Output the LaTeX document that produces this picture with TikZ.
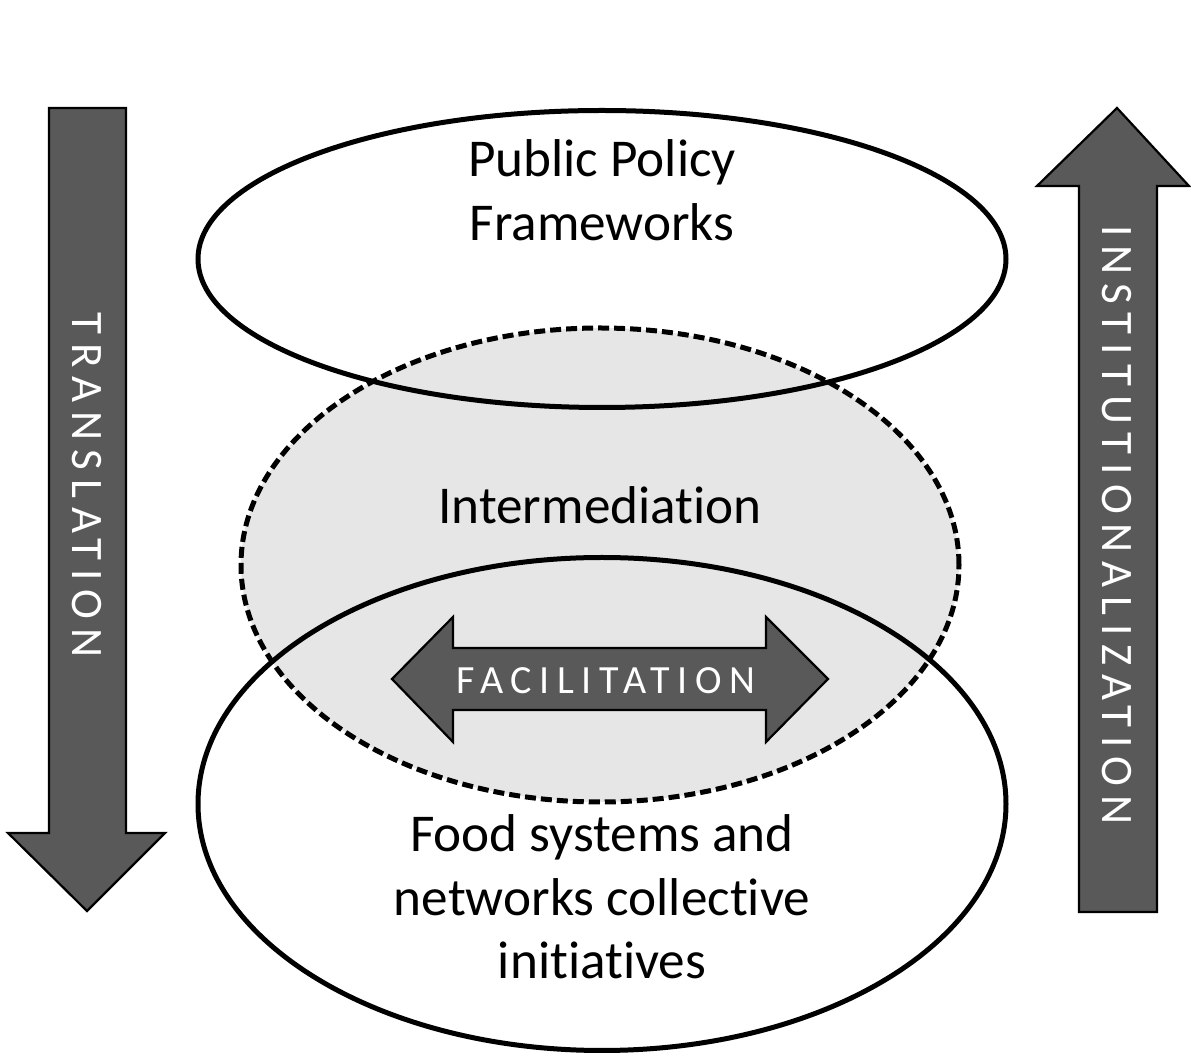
\documentclass[tikz,border=0pt]{standalone}
\usepackage{fontspec}
\setmainfont{Carlito}[Ligatures=NoCommon]
\usetikzlibrary{shapes.geometric}
\definecolor{arrowgray}{HTML}{595959}
\definecolor{midgray}{HTML}{E6E6E6}
\begin{document}
\begin{tikzpicture}[x=0.5pt,y=-0.5pt,
  oval/.style={ellipse, draw=black, line width=2.5pt, inner sep=0pt},
  blockarrow/.style={fill=arrowgray, draw=black, line width=1.1pt, line join=miter},
  spaced/.style={text=white, inner sep=0pt, anchor=center, font=\fontsize{22.5}{27}\selectfont\addfontfeatures{LetterSpace=20}},
  spacedsmall/.style={text=white, inner sep=0pt, anchor=center, font=\fontsize{20}{24}\selectfont\addfontfeatures{LetterSpace=19}},
  txt/.style={font=\fontsize{26.6}{31.8}\selectfont, align=center, inner sep=0pt}]
\useasboundingbox (0,0) rectangle (1191,1058);
% ellipses
\node[oval, fill=midgray, dash pattern=on 5.5pt off 2.5pt, minimum width=359pt, minimum height=237pt] (mid) at (600,565) {};
\node[oval, minimum width=404pt, minimum height=148.5pt] (top) at (602,259) {};
\node[oval, minimum width=404pt, minimum height=246.5pt] (bot) at (602,804) {};
% block arrows
\draw[blockarrow] (49,108) -- (126,108) -- (126,833) -- (165,833) -- (87,911) -- (8,833) -- (49,833) -- cycle;
\draw[blockarrow] (1079,912) -- (1157,912) -- (1157,186) -- (1189,186) -- (1117,108) -- (1037,186) -- (1079,186) -- cycle;
\draw[blockarrow] (392,679) -- (453,617) -- (453,648) -- (766,648) -- (766,617) -- (828,679) -- (766,742) -- (766,710) -- (453,710) -- (453,742) -- cycle;
% texts
\node[txt] (pp) at (602,190) {Public Policy\\Frameworks};
\node[txt] (im) at (600,505) {Intermediation};
\node[txt] (fs) at (602,897) {Food systems and\\networks collective\\initiatives};
\node[spacedsmall] (fac) at (606,681) {FACILITATION};
\node[spaced, rotate=-90] (tr) at (87,485) {TRANSLATION};
\node[spaced, rotate=-90] (inst) at (1117,525) {INSTITUTIONALIZATION};
\end{tikzpicture}
\end{document}
